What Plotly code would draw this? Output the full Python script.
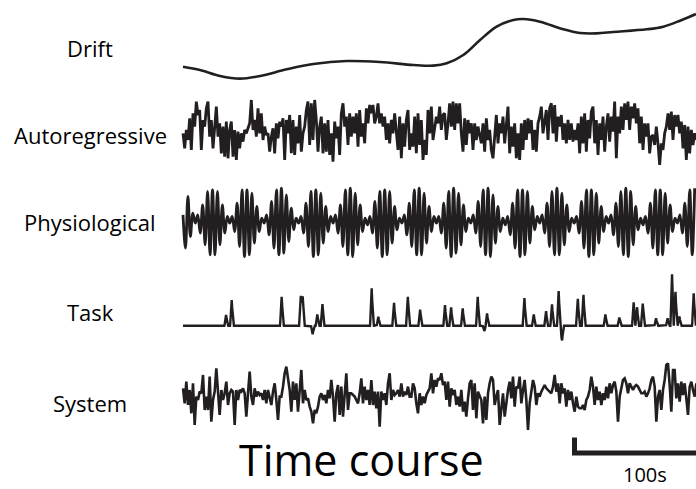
import numpy as np
import plotly.graph_objects as go

# ---------------- data (signal units, time in seconds) ----------------
labels = ["Drift", "Autoregressive", "Physiological", "Task", "System"]

drift_t = [0, 13.8, 30.1, 46.3, 62.6, 84.3, 106.0, 133.1, 160.2, 187.3, 203.5, 214.4,
           227.9, 241.5, 255.0, 268.6, 276.7, 290.2, 309.2, 322.8, 336.3, 349.9, 377.0,
           390.5, 404.1, 417.0]
drift_v = [-5.0, -6.0, -7.8, -8.6, -7.8, -5.8, -4.2, -3.3, -3.6, -4.5, -4.7, -4.0,
           -1.5, 3.0, 7.0, 9.0, 9.3, 8.5, 6.2, 5.1, 5.0, 5.4, 6.2, 7.0, 8.8, 10.8]

ar_dt = 1.355
ar_v = [
    0.0, -4.5, 1.0, -2.0, 4.5, -5.0, 6.0, 2.0, 9.5, 5.5,
    7.0, -5.0, 4.0, 2.0, 7.5, 9.5, -1.0, 4.0, -4.5, 3.0,
    8.0, -1.0, 3.0, -6.0, 2.0, -7.0, 3.5, -7.5, 1.0, 3.5,
    -7.0, 1.0, -8.0, 0.5, -4.5, 0.0, -2.5, 1.0, 0.0, 1.5,
    3.0, 10.0, 1.0, 4.0, -1.0, 7.5, 0.0, 6.0, -2.0, 2.0,
    -0.5, 0.0, -5.5, -1.0, 1.5, -6.0, 3.0, -1.5, 3.5, 2.0,
    4.5, -8.0, 4.0, 0.0, 5.5, -6.0, 4.0, -6.5, 2.0, -3.0,
    5.5, -5.5, 0.0, 2.0, 7.0, 9.5, -3.5, 9.0, -2.0, 10.0,
    4.0, -5.5, 2.0, 5.0, -6.0, 3.0, -5.5, 4.0, -6.5, 0.0,
    -8.5, 3.5, -1.5, 2.0, -6.5, 6.0, 9.0, 2.0, 5.0, -3.5,
    6.0, -1.0, 5.0, 0.0, 6.0, -4.0, 7.0, -1.0, 3.0, -3.0,
    7.5, 3.0, 8.5, 6.0, 8.5, 3.0, 5.0, 9.0, 3.0, 6.0,
    2.0, 5.0, -2.0, 3.0, -3.0, 4.0, 0.0, 6.0, 1.0, -5.0,
    5.0, -7.5, 3.0, -4.0, 4.0, 7.0, -5.0, 0.0, -4.0, 5.0,
    -6.0, 6.0, -3.5, 4.0, -8.0, -2.0, -6.5, 7.0, 0.0, 8.0,
    -2.0, 2.0, 5.0, 3.0,
    8.0, 1.0, 5.5, 6.0, -2.0, 3.0, 9.0, 2.0, 9.5, 1.0,
    9.0, 3.0, 9.0, 0.0, -5.5, 4.5, -3.5, 4.0, 0.0, 3.0,
    -5.0, 3.0, -2.0, 2.0, -1.0, -3.0, 3.0, -5.5, 4.5, -2.0,
    1.0, -5.0, -7.5, -1.0, 5.5, -3.0, 3.0, 0.0, 5.0, -3.0,
    3.0, 8.0, -6.0, 2.0, -4.0, 3.0, -7.5, 0.0, -8.0, 3.0,
    -5.0, 4.0, -2.0, 4.5, 0.0, 4.0, -5.0, 1.0, -5.5, 3.0,
    5.0, 8.0, 0.0, 3.5, 7.0, -2.0, 7.5, 9.0, 0.0, 8.5,
    -2.5, 5.0, 2.0, 5.5, -2.0, 3.0, -3.0, 4.0, -2.0, 3.0,
    -2.5, 1.0, -2.0, 3.0, -6.0, 5.0, -3.0, 6.0, -5.5, 4.0,
    -1.5, 6.5, 8.0, -3.0, 4.0, -6.5, 3.0, -2.0, 5.0, -5.5,
    2.0, 6.0, -2.5, 5.0, 0.5, 9.5, -7.5, 5.0, 0.0, 8.0,
    1.0, 9.0, 4.0, 9.5, 1.0, 8.0, 4.5, 9.0, 3.0, 7.5,
    -3.0, 5.0, -5.0, 3.0, -1.0, 3.0, -6.0, -1.0, -0.5, -3.5,
    2.0, -3.0, -9.5, -3.0, -5.0, 0.0, 2.0, 6.0, 1.0, 6.5,
    -2.0, 5.5, 2.0, 5.5, 0.0, 3.5, -4.5, 2.5, -8.0, 2.0,
    -6.0, 1.0, -3.5, 0.0, -2.0,
]

phys_dt = 2.0
phys_v = [
    2, -8, 7.5, -4.5, 2.5,
    -0.5, 2, -3.5, 5, -7, 9, -10, 9.5, -10, 9, -7, 5, -3.5, 1.5,
    -0.5, 1.5, -3, 5.5, -7.5, 9.5, -10.5, 9.5, -10, 8.5, -6.5, 4.5, -3, 1,
    -0.5, 2, -4, 6, -8, 9.5, -10, 10, -9.5, 8, -6, 4, -2.5, 1,
    -0.5, 1.5, -3.5, 5.5, -7.5, 9, -10.5, 9.5, -10, 8.5, -6.5, 4.5, -3, 1.5,
    -0.5, 2, -3.5, 5, -7.5, 9.5, -10, 10, -10.5, 8.5, -7, 5, -3, 1,
    -1, 1.5, -3.5, 6, -8, 9, -10.5, 9.5, -10, 9, -6.5, 4.5, -2.5, 1,
    -0.5, 2, -4, 5.5, -7.5, 9.5, -10, 10, -10, 8.5, -6.5, 4.5, -3, 1.5,
    -0.5, 1.5, -3.5, 5.5, -8, 9, -10.5, 10, -9.5, 8.5, -7, 5, -3, 1,
    -0.5, 2, -3.5, 6, -7.5, 9.5, -10, 10, -10.5, 8, -6.5, 4.5, -3, 1,
    -1, 1.5, -4, 5.5, -8, 9.5, -10.5, 9.5, -10, 9, -6.5, 4.5, -2.5, 1.5,
    -0.5, 2, -3.5, 5.5, -7.5, 9, -10, 10, -10, 8.5, -7, 5, -3, 1,
    -0.5, 1.5, -3.5, 6, -8, 9.5, -10.5, 9.5, -10, 8.5, -6.5, 4.5, -3, 1.5,
    -0.5, 2, -4, 5.5, -7.5, 9, -10, 10, -10.5, 9, -7, 4.5, -2.5, 1,
    -1, 1.5, -3.5, 5.5, -8, 9.5, -10, 9.5, -10, 8.5, -6.5, 5, -3, 1,
    -0.5, 2, -3.5, 5.5, -7.5, 9.5, -10, 10,
]

task_onsets = [35.0, 39.6, 80.2, 95.7, 97.3, 105.4, 109.2, 113.3, 153.4, 158.8, 171.5,
               182.7, 192.7, 213.0, 217.9, 227.4, 239.6, 245.0, 247.2, 277.5, 285.1,
               295.1, 300.0, 305.4, 308.1, 320.9, 325.5, 343.4, 354.7, 366.4, 369.1,
               373.7, 384.6, 394.0, 397.6, 400.3, 403.5, 415.2]
task_amps = [3.2, 7.7, 8.7, 9.7, 9.2, -2.6, 3.4, 7.0, 11.2, 2.7, 7.4,
             9.4, 5.2, 6.2, 6.0, 5.2, 8.7, -1.6, 3.7, 9.0, 3.7,
             4.7, 6.4, 10.4, -4.8, 8.7, 10.0, 3.4, 2.7, 7.0, 6.0,
             7.2, 2.2, 2.2, 15.4, 11.0, 3.0, 9.7]

sys_dt = 1.355
sys_v = [
    1.5, -3.0, 3.5, -3.5, 1.0, -6.0, 3.0, -9.5, -1.0, -2.0,
    0.5, 0.0, 5.5, -5.0, -1.0, -5.0, 5.0, -8.5, -2.0, 0.5,
    7.5, -1.5, -6.5, 1.0, -2.0, 0.0, 3.5, -3.5, 0.0, 1.0,
    0.5, -9.5, 1.0, -2.0, 1.0, 0.5, 1.5, 0.0, -7.0, 0.0,
    6.5, -1.0, -3.5, 1.5, -1.0, 0.5, -0.5, 0.0, -2.0, 1.0,
    -3.0, 1.0, -1.0, -3.5, 0.5, 3.0, -2.0, -8.0, -1.0, -1.0,
    2.0, 6.0, 8.0, 5.0, 1.0, -5.5, 3.5, -2.0, 3.0, -5.5,
    2.0, 7.0, -3.0, 1.0, -2.0, -1.5, -4.0, -5.5, -9.0, -5.0,
    -6.0, -4.0, -1.0, 0.0, -2.0, -0.5, -3.0, 1.0, -1.5, 4.0,
    -1.0, -8.5, 0.0, 2.5, -6.5, 2.0, -7.0, 1.0, 6.0, -5.0,
    0.0, 0.0, -0.5, -1.0, -2.0, -3.0, 0.0, 4.5, -3.0, 2.0,
    -2.0, 1.0, -3.5, 4.0, -3.5, 0.5, -4.5, 0.5, -10.0, 0.5,
    -2.0, 0.0, -3.5, 3.0, 6.0, -2.0, 1.0, -0.5, 0.0, 1.0,
    -1.0, 3.0, -1.0, 0.5, -0.5, 2.0, -1.0, -1.0, 3.0, 1.5,
    -3.0, -6.0, 0.0, -3.5, -1.0, -3.0, -0.5, 0.5, 1.5, 6.0,
    0.0, 4.0, 2.0, 4.5,
    4.0, 6.0, 2.5, 3.5, -2.0, 3.5, -4.0, 1.5, -0.5, 1.0,
    -3.5, -1.0, -4.0, 1.0, -5.5, -2.5, -7.0, -1.5, 3.0, 4.0,
    -5.0, 3.0, -7.5, 0.5, -1.0, -2.0, -9.0, -1.0, -8.0, 0.0,
    3.0, 5.0, 4.0, -3.5, -1.0, 1.0, -9.5, -5.0, 0.0, -7.0,
    -2.0, 1.0, 3.5, -1.5, 5.0, -4.0, 2.0, 1.5, 5.0, -3.0,
    1.0, 4.0, -2.0, -11.0, -3.0, 1.0, 4.0, 2.0, -3.5, 0.0,
    -1.0, 0.5, 1.5, 2.5, 1.5, 1.0, 0.5, 0.0, 2.0, 5.5,
    0.5, 3.0, -3.0, 3.0, 0.0, 1.5, -4.0, 1.0, -2.0, 0.5,
    -3.0, -5.5, -1.0, -4.0, -4.5, -4.5, -3.5, -5.0, -2.0, -1.0,
    1.0, 5.0, 2.0, -3.5, 2.0, -2.0, 0.5, -3.5, 0.0, -2.0,
    2.0, -1.5, 3.0, 0.0, 2.5, 3.5, 0.5, -8.5, -1.0, 2.0,
    4.0, 4.5, 3.0, 0.0, 3.0, 2.0, 1.0, 2.0, 2.5, 2.0,
    1.0, 0.0, 0.0, 0.5, -1.0, 0.0, 1.5, 4.0, 5.0, 2.0,
    -8.5, -1.0, 1.0, -5.0, 1.0, 4.0, 8.5, 9.0, 2.5, -5.5,
    7.0, 7.0, -1.5, 3.0, -2.5, 3.5, -0.5, 3.0, -1.5, -6.5,
    2.0, 3.5, 1.0, -1.0, 3.0,
]

scale_bar_seconds = 100
title_text = "Time course"
scale_text = "100s"

# ---------------- layout (pixel-like vertical coordinate) ----------------
W, H = 696, 489
PX_PER_S = 1.23
X0_PX = 183
UNIT_PX = 10 / 3
INK = "#231f20"
FONT = "Open Sans"

baselines = {"Drift": 50, "Autoregressive": 133.3, "Physiological": 221.5,
             "Task": 325.7, "System": 393.3}
label_y = {"Drift": 48, "Autoregressive": 135, "Physiological": 222,
           "Task": 312, "System": 403}

def y_of(name, v):
    return baselines[name] - np.asarray(v, dtype=float) * UNIT_PX

fig = go.Figure()

fig.add_trace(go.Scatter(x=drift_t, y=y_of("Drift", drift_v), mode="lines",
                         line=dict(color=INK, width=2.6, shape="spline", smoothing=1.0)))

ar_t = np.arange(len(ar_v)) * ar_dt
fig.add_trace(go.Scatter(x=ar_t, y=y_of("Autoregressive", ar_v), mode="lines",
                         line=dict(color=INK, width=2.8)))

phys_t = np.arange(len(phys_v)) * phys_dt
fig.add_trace(go.Scatter(x=phys_t, y=y_of("Physiological", phys_v), mode="lines",
                         line=dict(color=INK, width=2.8, shape="spline", smoothing=1.0)))

# task: each event drawn as a narrow pulse on a flat baseline
grid = np.arange(0, 417.2, 0.2)
task_sig = np.zeros_like(grid)
HALF_W = 1.3
for t0, a in zip(task_onsets, task_amps):
    task_sig += a * np.clip(1 - np.abs(grid - t0) / HALF_W, 0, None)
fig.add_trace(go.Scatter(x=grid, y=y_of("Task", task_sig), mode="lines",
                         line=dict(color=INK, width=2.4)))

sys_t = np.arange(len(sys_v)) * sys_dt
fig.add_trace(go.Scatter(x=sys_t, y=y_of("System", sys_v), mode="lines",
                         line=dict(color=INK, width=2.6)))

def s_of_px(px):
    return (px - X0_PX) / PX_PER_S

# scale bar
sb_start = s_of_px(574.5)
fig.add_trace(go.Scatter(x=[sb_start, sb_start, sb_start + scale_bar_seconds * 1.2],
                         y=[437.5, 453, 453], mode="lines",
                         line=dict(color=INK, width=5)))

for name in labels:
    fig.add_annotation(x=s_of_px(90), y=label_y[name], text=name, showarrow=False,
                       xanchor="center", yanchor="middle",
                       font=dict(family=FONT, size=22, color="#000000"))

fig.add_annotation(x=s_of_px(361), y=459, text=title_text, showarrow=False,
                   xanchor="center", yanchor="middle",
                   font=dict(family=FONT, size=43, color="#000000"))
fig.add_annotation(x=s_of_px(645), y=474, text=scale_text, showarrow=False,
                   xanchor="center", yanchor="middle",
                   font=dict(family=FONT, size=20, color="#000000"))

fig.update_layout(
    width=W, height=H, margin=dict(l=0, r=0, t=0, b=0),
    paper_bgcolor="white", plot_bgcolor="white", showlegend=False,
    xaxis=dict(range=[s_of_px(0), s_of_px(W)], visible=False, fixedrange=True),
    yaxis=dict(range=[H, 0], visible=False, fixedrange=True),
)

fig.write_html("out.html", post_script="document.body.style.margin='0';",
               config={"displayModeBar": False})
